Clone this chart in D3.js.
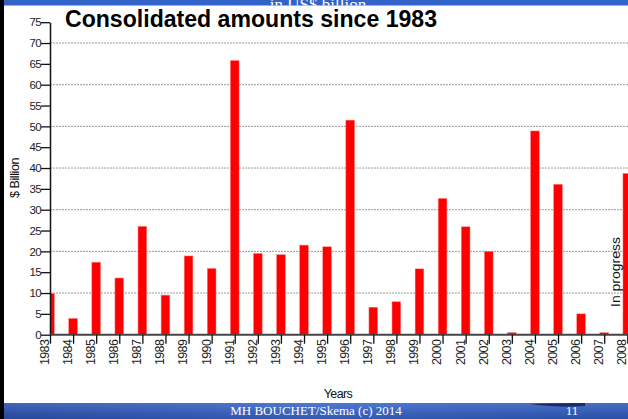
<!DOCTYPE html>
<html><head><meta charset="utf-8">
<script src="https://cdn.jsdelivr.net/npm/d3@7"></script>
<style>
html,body{margin:0;padding:0;background:#fff;overflow:hidden}
svg{display:block}
</style></head>
<body>
<script>
const years = ["1983","1984","1985","1986","1987","1988","1989","1990","1991","1992","1993","1994","1995","1996","1997","1998","1999","2000","2001","2002","2003","2004","2005","2006","2007","2008"];
const amounts = [9.9,3.9,17.4,13.6,26.0,9.5,18.9,15.9,65.8,19.5,19.2,21.5,21.1,51.5,6.6,7.9,15.8,32.7,25.9,20.0,0.5,48.9,36.1,5.0,0.5,38.7];
const yTickValues = [0,5,10,15,20,25,30,35,40,45,50,55,60,65,70,75];
const gridValues = [10,20,30,40,50,60,70];
const titleText = "Consolidated amounts since 1983";
const headerText = "in US$ billion";
const footerText = "MH BOUCHET/Skema (c) 2014";
const pageNumber = "11";
const yLabel = "$ Billion";
const xLabel = "Years";
const noteText = "In progress";

const W = 628, H = 419;
const svg = d3.select("body").append("svg").attr("width", W).attr("height", H);

const defs = svg.append("defs");
const grad = defs.append("linearGradient").attr("id","foot").attr("x1","0").attr("x2","1").attr("y1","0").attr("y2","0");
grad.append("stop").attr("offset","0").attr("stop-color","#2a4fae");
grad.append("stop").attr("offset","0.5").attr("stop-color","#3866cc");
grad.append("stop").attr("offset","1").attr("stop-color","#2d58bb");
const vgrad = defs.append("linearGradient").attr("id","footv").attr("x1","0").attr("x2","0").attr("y1","0").attr("y2","1");
vgrad.append("stop").attr("offset","0").attr("stop-color","#ffffff").attr("stop-opacity","0.12");
vgrad.append("stop").attr("offset","1").attr("stop-color","#000000").attr("stop-opacity","0.12");
defs.append("clipPath").attr("id","plot").append("rect").attr("x",50).attr("y",0).attr("width",W-50).attr("height",335);
defs.append("clipPath").attr("id","topband").append("rect").attr("x",0).attr("y",0).attr("width",W).attr("height",5.5);

const x = d3.scalePoint().domain(years).range([50, 627.3]);
const y = d3.scaleLinear().domain([0,75]).range([334.7, 22.2]);
const barW = 8.7;

// top band
svg.append("rect").attr("x",0).attr("y",0).attr("width",W).attr("height",5.5).attr("fill","#3263c8");
svg.append("text").attr("clip-path","url(#topband)").attr("x",318).attr("y",10)
  .attr("text-anchor","middle").attr("fill","#fff")
  .style("font-family","'Liberation Serif', 'Times New Roman', serif").style("font-size","17px").text(headerText);

// gridlines
svg.append("g").selectAll("line").data(gridValues).join("line")
  .attr("x1",50).attr("x2",W).attr("y1",d=>y(d)).attr("y2",d=>y(d))
  .attr("stroke","#9a9a9a").attr("stroke-width",1).attr("stroke-dasharray","2,1");

// bars
svg.append("g").attr("clip-path","url(#plot)").selectAll("rect").data(years).join("rect")
  .attr("x",(d)=>x(d)-barW/2).attr("width",barW)
  .attr("y",(d,i)=>y(amounts[i])).attr("height",(d,i)=>y(0)-y(amounts[i]))
  .attr("fill","#ff0000").attr("stroke","#ff8080").attr("stroke-width",0.5);

// y axis
const yAxis = d3.axisLeft(y).tickValues(yTickValues).tickSize(9).tickPadding(0).tickSizeOuter(0);
const gy = svg.append("g").attr("transform","translate(50,0)").call(yAxis);
gy.select(".domain").attr("stroke","#111").attr("stroke-width",1.5);
gy.selectAll(".tick line").attr("stroke","#111").attr("stroke-width",1.3);
gy.selectAll(".tick text").attr("fill","#222")
  .style("font-family","'Liberation Sans', Arial, sans-serif").style("font-size","11.5px").style("letter-spacing","-0.6px");

// x axis
const xAxis = d3.axisBottom(x).tickSize(9).tickSizeOuter(0);
const gx = svg.append("g").attr("transform","translate(0,334.7)").call(xAxis);
gx.select(".domain").attr("stroke","#444").attr("stroke-width",2).attr("d","M50,0H628");
gx.selectAll(".tick line").attr("stroke","#111").attr("stroke-width",1.3);
gx.selectAll(".tick text")
  .attr("transform","translate(-1,5) rotate(-90)")
  .attr("text-anchor","end").attr("x",0).attr("y",0).attr("dy","-0.05em").attr("fill","#222")
  .style("font-family","'Liberation Sans', Arial, sans-serif").style("font-size","12.5px").style("letter-spacing","-0.6px");

// title
svg.append("text").attr("x",65).attr("y",27).attr("fill","#000")
  .attr("textLength",372).attr("lengthAdjust","spacingAndGlyphs")
  .style("font-family","'Liberation Sans', Arial, sans-serif").style("font-weight","bold").style("font-size","23px")
  .text(titleText);

// axis labels
svg.append("text").attr("transform","translate(19,178) rotate(-90)").attr("text-anchor","middle").attr("fill","#111")
  .style("font-family","'Liberation Sans', Arial, sans-serif").style("font-size","12.5px").style("letter-spacing","-0.4px").text(yLabel);
svg.append("text").attr("x",338).attr("y",398).attr("text-anchor","middle").attr("fill","#111")
  .style("font-family","'Liberation Sans', Arial, sans-serif").style("font-size","12.5px").style("letter-spacing","-0.6px").text(xLabel);
svg.append("text").attr("transform","translate(619.5,272) rotate(-90)").attr("text-anchor","middle").attr("fill","#111")
  .attr("textLength",70).attr("lengthAdjust","spacingAndGlyphs")
  .style("font-family","'Liberation Sans', Arial, sans-serif").style("font-size","12px").text(noteText);

// footer band
svg.append("rect").attr("x",0).attr("y",403).attr("width",W).attr("height",16).attr("fill","url(#foot)");
svg.append("rect").attr("x",0).attr("y",403).attr("width",W).attr("height",16).attr("fill","url(#footv)");
svg.append("path").attr("d","M530,404 Q560,403 585,403 L585,406 Q560,408 530,404 Z").attr("fill","#0d1f55").attr("opacity",0.8);
svg.append("text").attr("x",316).attr("y",415).attr("text-anchor","middle").attr("fill","#fff")
  .style("font-family","'Liberation Serif', 'Times New Roman', serif").style("font-size","13px").text(footerText);
svg.append("text").attr("x",572).attr("y",415).attr("text-anchor","middle").attr("fill","#fff")
  .style("font-family","'Liberation Serif', 'Times New Roman', serif").style("font-size","13px").text(pageNumber);

// left black border
svg.append("rect").attr("x",0).attr("y",0).attr("width",4).attr("height",H).attr("fill","#000");
</script>
</body></html>
